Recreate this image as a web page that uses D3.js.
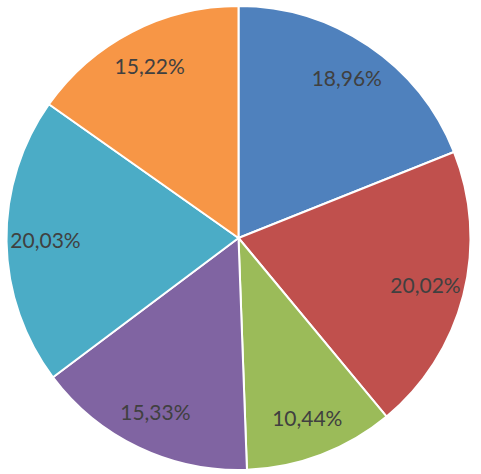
<!DOCTYPE html>
<html><head><meta charset="utf-8">
<script src="https://cdn.jsdelivr.net/npm/d3@7/dist/d3.min.js"></script>
<style>body{margin:0;background:#fff}</style>
</head><body>
<svg id="c" width="481" height="474"></svg>
<script>
const labels = ["18,96%","20,02%","10,44%","15,33%","20,03%","15,22%"];
const values = [18.96,20.02,10.44,15.33,20.03,15.22];
const colors = ["#4F81BD","#C0504D","#9BBB59","#8064A2","#4BACC6","#F79646"];

const svg = d3.select("#c");
const cx = 238.5, cy = 238, r = 232;
const g = svg.append("g").attr("transform",`translate(${cx},${cy})`);
const pie = d3.pie().sort(null).value(d=>d)(values);
const arc = d3.arc().innerRadius(0).outerRadius(r);
const lab = d3.arc().innerRadius(193).outerRadius(193);
g.selectAll("path").data(pie).join("path")
  .attr("d",arc).attr("fill",(d,i)=>colors[i])
  .attr("stroke","#fff").attr("stroke-width",2).attr("stroke-linejoin","round");
g.selectAll("text").data(pie).join("text")
  .attr("transform",d=>`translate(${lab.centroid(d)})`)
  .attr("text-anchor","middle").attr("dy","0.36em")
  .attr("font-family","Lato, 'Open Sans', sans-serif").attr("font-size",21)
  .attr("fill","#404040")
  .text((d,i)=>labels[i]);
</script>
</body></html>
